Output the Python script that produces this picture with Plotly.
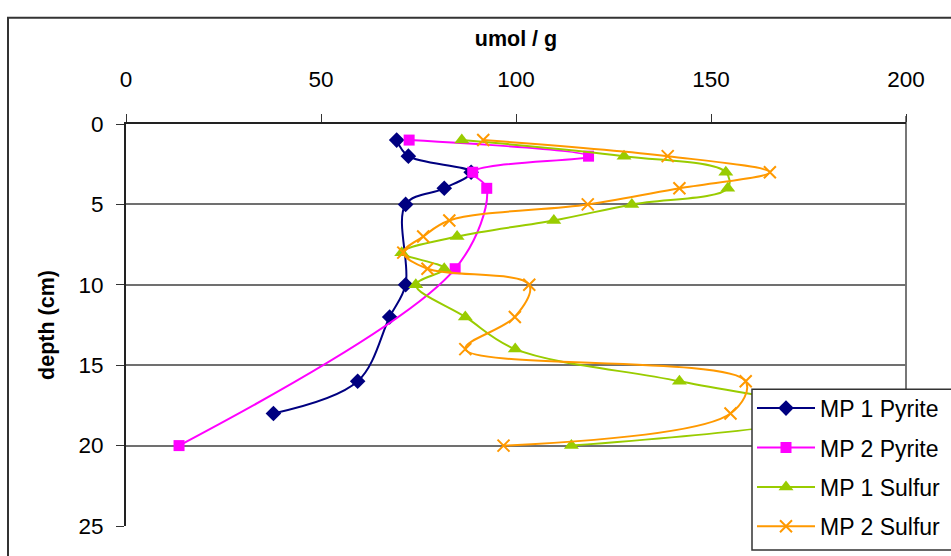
import plotly.graph_objects as go

# ---- data ----
depth_mp1_pyrite = [1, 2, 3, 4, 5, 10, 12, 16, 18]
mp1_pyrite = [69.4, 72.4, 88.5, 81.6, 71.7, 71.7, 67.6, 59.4, 37.8]

depth_mp2_pyrite = [1, 2, 3, 4, 9, 20]
mp2_pyrite = [72.6, 118.6, 88.9, 92.5, 84.4, 13.6]

depth_mp1_sulfur = [1, 2, 3, 4, 5, 6, 7, 8, 9, 10, 12, 14, 16, 18, 20]
mp1_sulfur = [86.1, 127.7, 153.8, 154.3, 129.7, 109.7, 84.9, 70.7, 81.6, 74.3,
              87.0, 99.8, 141.9, 180.0, 114.2]

depth_mp2_sulfur = [1, 2, 3, 4, 5, 6, 7, 8, 9, 10, 12, 14, 16, 18, 20]
mp2_sulfur = [91.6, 138.9, 165.1, 141.9, 118.4, 82.9, 76.2, 71.1, 77.3, 103.4,
              99.7, 87.0, 158.9, 155.0, 96.8]

x_ticks = [0, 50, 100, 150, 200]
y_ticks = [0, 5, 10, 15, 20, 25]

FONT = "Liberation Sans, Arial, sans-serif"

series = [
    ("MP 1 Pyrite", mp1_pyrite, depth_mp1_pyrite, "#000080", "diamond", 12),
    ("MP 2 Pyrite", mp2_pyrite, depth_mp2_pyrite, "#FF00FF", "square", 11),
    ("MP 1 Sulfur", mp1_sulfur, depth_mp1_sulfur, "#99CC00", "triangle-up", 13),
    ("MP 2 Sulfur", mp2_sulfur, depth_mp2_sulfur, "#FF9900", "x-thin", 12),
]

fig = go.Figure()
for i, (name, xs, ys, color, sym, size) in enumerate(series):
    marker = dict(symbol=sym, size=size, color=color)
    if sym == "x-thin":
        marker["line"] = dict(color=color, width=2)
    fig.add_trace(go.Scatter(
        x=xs, y=ys, name=name, mode="lines+markers",
        line=dict(color=color, width=2, shape="spline", smoothing=1.0),
        marker=marker, legendgroup=f"g{i}", cliponaxis=True,
    ))

PX_W = 780.0   # plot width in px
PX_H = 402.5   # plot height in px
def px_x(p):
    return (p - 126) / PX_W
def px_y(p):
    return (526 - p) / PX_H

fig.update_layout(
    width=951, height=556,
    margin=dict(l=126, r=45, t=123.5, b=30, autoexpand=False),
    paper_bgcolor="white", plot_bgcolor="white",
    font=dict(family=FONT, size=22, color="black"),
    showlegend=True,
    legend=dict(
        x=px_x(752), y=px_y(386.5),
        xanchor="left", yanchor="top",
        bgcolor="rgba(0,0,0,0)", borderwidth=0,
        font=dict(family=FONT, size=23, color="black"),
        tracegroupgap=6.5, itemwidth=58,
    ),
    xaxis=dict(
        range=[0, 200], side="top", tickvals=x_ticks,
        ticks="outside", ticklen=8, tickcolor="#333333", tickwidth=1,
        showline=True, linecolor="#222222", linewidth=2,
        showgrid=False, zeroline=False,
        tickfont=dict(size=22.5), ticklabelstandoff=18,
        title=dict(text="<b>umol / g</b>", font=dict(size=21.5), standoff=14),
    ),
    yaxis=dict(
        range=[25, 0], tickvals=y_ticks,
        ticks="outside", ticklen=8, tickcolor="#333333", tickwidth=1,
        showline=True, linecolor="#222222", linewidth=2,
        showgrid=True, gridcolor="#707070", gridwidth=1.5,
        zeroline=False,
        tickfont=dict(size=22.5), ticklabelstandoff=8,
        title=dict(text="<b>depth (cm)</b>", font=dict(size=21.5), standoff=18),
    ),
    shapes=[
        # right plot-area border
        dict(type="line", xref="paper", yref="paper", x0=1, x1=1, y0=0, y1=1.02,
             line=dict(color="#777777", width=2), layer="below"),
        # outer chart border (extends beyond the visible window)
        dict(type="rect", xref="paper", yref="paper",
             x0=px_x(8), x1=1.2, y0=-0.2, y1=px_y(17),
             line=dict(color="#333333", width=2), fillcolor="rgba(0,0,0,0)",
             layer="below"),
        # legend box (extends beyond the visible window on the right)
        dict(type="rect", xref="paper", yref="paper",
             x0=px_x(752), x1=1.2, y0=px_y(550), y1=px_y(389),
             line=dict(color="#333333", width=1.5), fillcolor="white",
             layer="above"),
    ],
)

fig.write_html("out.html")
